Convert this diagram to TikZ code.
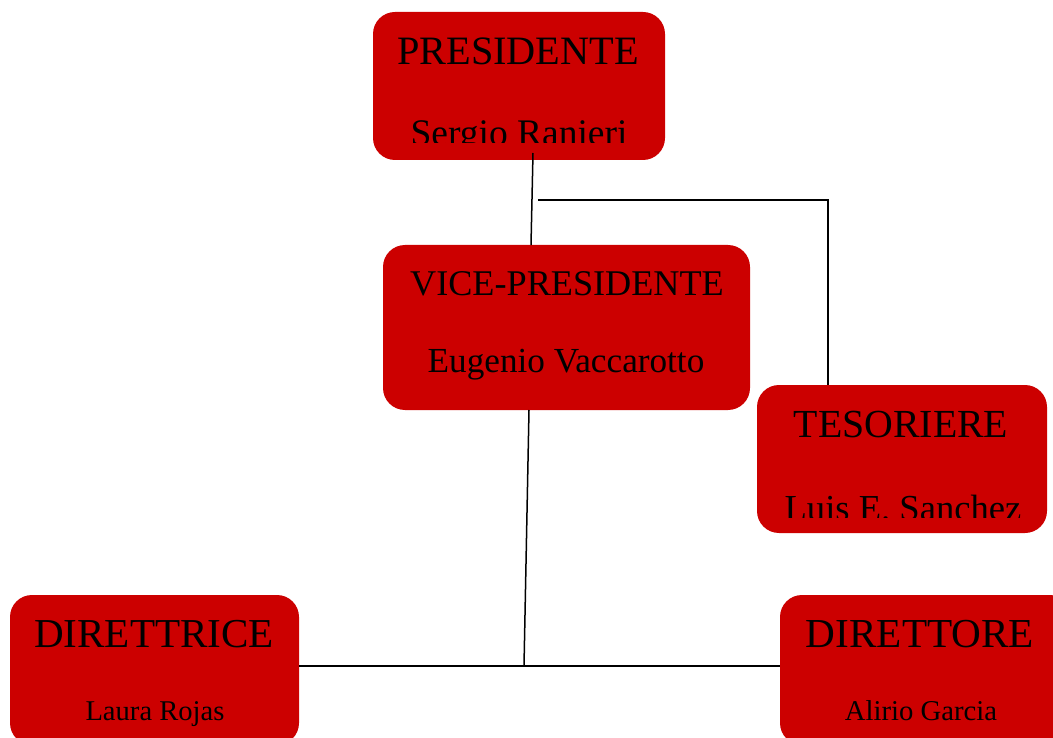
\documentclass[tikz,border=0pt]{standalone}
\usepackage{fontspec}
\setmainfont{Liberation Serif}
\definecolor{boxred}{RGB}{204,0,0}
\tikzset{
  box/.style={draw=none, fill=boxred, rounded corners=22pt, inner sep=0pt},
  lbl/.style={anchor=base, inner sep=0pt, text=black},
  conn/.style={draw=black, line width=1.5pt}
}
\begin{document}
\begin{tikzpicture}[x=1pt,y=-1pt]
\useasboundingbox (0,0) rectangle (1053,738);
% boxes
\node[box, minimum width=292pt, minimum height=148pt] (pres) at (519,86) {};
\node[box, minimum width=367pt, minimum height=165pt] (vp) at (566.5,327.5) {};
\node[box, minimum width=290pt, minimum height=148pt] (tes) at (902,459) {};
\node[box, minimum width=289pt, minimum height=150pt] (dir1) at (154.5,670) {};
\node[box, minimum width=292pt, minimum height=150pt] (dir2) at (926,670) {};
% texts
\node[lbl, font=\fontsize{40.3}{41}\selectfont] (presT) at (518,65) {PRESIDENTE};
\begin{scope}
\clip (0,0) rectangle (1053,143);
\node[lbl, font=\fontsize{37.5}{38}\selectfont] (presN) at (519,146) {Sergio Ranieri};
\end{scope}
\node[lbl, font=\fontsize{36.2}{37}\selectfont] (vpT) at (567,296) {VICE-PRESIDENTE};
\node[lbl, font=\fontsize{35.2}{36}\selectfont] (vpN) at (566,372) {Eugenio Vaccarotto};
\node[lbl, font=\fontsize{39.8}{40}\selectfont] (tesT) at (901,437) {TESORIERE};
\begin{scope}
\clip (0,0) rectangle (1053,517);
\node[lbl, font=\fontsize{36.6}{37}\selectfont] (tesN) at (903,520) {Luis E. Sanchez};
\end{scope}
\node[lbl, font=\fontsize{41.1}{42}\selectfont] (dir1T) at (154,647) {DIRETTRICE};
\node[lbl, font=\fontsize{28.6}{29}\selectfont] (dir1N) at (155,720) {Laura Rojas};
\node[lbl, font=\fontsize{41.2}{42}\selectfont] (dir2T) at (920,647) {DIRETTORE};
\node[lbl, font=\fontsize{28.7}{29}\selectfont] (dir2N) at (921,720) {Alirio Garcia};
% connector points
\coordinate (p1) at (533,153);
\coordinate (v1) at (531,245);
\coordinate (e1) at (538,200);
\coordinate (t1) at (828,385);
\coordinate (v2) at (529,410);
\coordinate (j) at (524,666);
% connectors
\draw[conn] (p1) -- (v1);
\draw[conn] (e1) -| (t1);
\draw[conn] (v2) -- (j);
\draw[conn] (dir1.east |- j) -- (dir2.west |- j);
\end{tikzpicture}
\end{document}
